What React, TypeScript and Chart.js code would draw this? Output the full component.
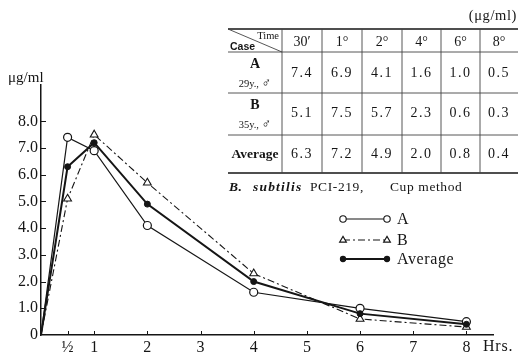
import React, { useEffect, useRef } from 'react';
import { Chart, registerables } from 'chart.js';

Chart.register(...registerables);

const hours = [0, 0.5, 1, 2, 4, 6, 8];
const caseA = [0, 7.4, 6.9, 4.1, 1.6, 1.0, 0.5];
const caseB = [0, 5.1, 7.5, 5.7, 2.3, 0.6, 0.3];
const average = [0, 6.3, 7.2, 4.9, 2.0, 0.8, 0.4];
const xTicks = [0.5, 1, 2, 3, 4, 5, 6, 7, 8];
const yTicks = [0, 1, 2, 3, 4, 5, 6, 7, 8];
const timeLabels = ['30′', '1°', '2°', '4°', '6°', '8°'];
const seriesNames = ['A', 'B', 'Average'];
const caseAges = ['29y.,', '35y.,'];

const FONT = '"Liberation Serif", "DejaVu Serif", serif';
const INK = '#151515';

const colX = [228, 282, 322, 362, 402, 441, 480, 518];
const rowY = [29, 52, 93, 135, 173];

export default function App() {
  const ref = useRef<HTMLCanvasElement>(null);

  useEffect(() => {
    const canvas = ref.current!;
    const toPts = (ys: number[]) => hours.map((x, i) => ({ x, y: ys[i] }));
    const radii = (r: number) => hours.map((h) => (h === 0 ? 0 : r));

    const tickPlugin = {
      id: 'innerTicks',
      afterDraw(chart: any) {
        const { ctx, scales } = chart;
        const x = scales.x;
        const y = scales.y;
        ctx.save();
        ctx.strokeStyle = INK;
        ctx.lineWidth = 1;
        xTicks.forEach((v) => {
          const px = Math.round(x.getPixelForValue(v)) + 0.5;
          ctx.beginPath();
          ctx.moveTo(px, y.bottom);
          ctx.lineTo(px, y.bottom - 4);
          ctx.stroke();
        });
        yTicks.slice(1).forEach((v) => {
          const py = Math.round(y.getPixelForValue(v)) + 0.5;
          ctx.beginPath();
          ctx.moveTo(x.left, py);
          ctx.lineTo(x.left + 5, py);
          ctx.stroke();
        });
        ctx.restore();
      },
    };

    const drawMarker = (ctx: CanvasRenderingContext2D, style: string, cx: number, cy: number, r: number, fill: string) => {
      ctx.beginPath();
      if (style === 'triangle') {
        ctx.moveTo(cx, cy - r);
        ctx.lineTo(cx + r * 0.95, cy + r * 0.6);
        ctx.lineTo(cx - r * 0.95, cy + r * 0.6);
        ctx.closePath();
      } else {
        ctx.arc(cx, cy, r, 0, Math.PI * 2);
      }
      ctx.fillStyle = fill;
      ctx.fill();
      ctx.stroke();
    };

    const legendPlugin = {
      id: 'sampleLegend',
      afterDraw(chart: any) {
        const { ctx } = chart;
        const rows = [219, 240, 259];
        ctx.save();
        chart.data.datasets.forEach((ds: any, i: number) => {
          const y = rows[i];
          ctx.strokeStyle = INK;
          ctx.lineWidth = ds.borderWidth;
          ctx.setLineDash(ds.borderDash || []);
          ctx.beginPath();
          ctx.moveTo(343, y);
          ctx.lineTo(387, y);
          ctx.stroke();
          ctx.setLineDash([]);
          ctx.lineWidth = 1.1;
          const r = ds.pointStyle === 'triangle' ? 3.6 : ds.pointBackgroundColor === '#fff' ? 3.2 : 2.6;
          drawMarker(ctx, ds.pointStyle, 343, y, r, ds.pointBackgroundColor);
          drawMarker(ctx, ds.pointStyle, 387, y, r, ds.pointBackgroundColor);
          ctx.fillStyle = INK;
          ctx.font = `16px ${FONT}`;
          (ctx as any).letterSpacing = '0.6px';
          ctx.textBaseline = 'middle';
          ctx.textAlign = 'left';
          ctx.fillText(ds.label, 397, y + 1);
        });
        ctx.restore();
      },
    };

    const chart = new Chart(canvas, {
      type: 'line',
      data: {
        datasets: [
          {
            label: seriesNames[0],
            data: toPts(caseA),
            borderColor: INK,
            borderWidth: 1.2,
            pointStyle: 'circle',
            pointRadius: radii(4),
            pointBackgroundColor: '#fff',
            pointBorderColor: INK,
            pointBorderWidth: 1.2,
            tension: 0,
            order: 2,
          },
          {
            label: seriesNames[1],
            data: toPts(caseB),
            borderColor: INK,
            borderWidth: 1.1,
            borderDash: [7, 3, 2, 3],
            pointStyle: 'triangle',
            pointRadius: radii(4.5),
            pointBackgroundColor: '#fff',
            pointBorderColor: INK,
            pointBorderWidth: 1.1,
            tension: 0,
            order: 3,
          },
          {
            label: seriesNames[2],
            data: toPts(average),
            borderColor: INK,
            borderWidth: 2,
            pointStyle: 'circle',
            pointRadius: radii(3),
            pointBackgroundColor: INK,
            pointBorderColor: INK,
            pointBorderWidth: 1,
            tension: 0,
            order: 1,
          },
        ],
      },
      options: {
        responsive: false,
        animation: false,
        devicePixelRatio: 1,
        layout: { padding: { top: 85, right: 25, left: 0, bottom: 0 } },
        plugins: { legend: { display: false }, tooltip: { enabled: false } },
        scales: {
          x: {
            type: 'linear',
            min: 0,
            max: 8.5,
            grid: { display: false, drawTicks: false },
            border: { display: true, color: INK, width: 1.5 },
            afterBuildTicks: (s: any) => {
              s.ticks = xTicks.map((v) => ({ value: v }));
            },
            afterFit: (s: any) => {
              s.height = 21;
            },
            ticks: {
              autoSkip: false,
              maxRotation: 0,
              padding: 3,
              color: INK,
              font: { family: FONT, size: 16 },
              callback: (v: any) => (v === 0.5 ? '½' : String(v)),
            },
          },
          y: {
            type: 'linear',
            min: 0,
            max: 9.36,
            grid: { display: false, drawTicks: false },
            border: { display: true, color: INK, width: 1.5 },
            afterBuildTicks: (s: any) => {
              s.ticks = yTicks.map((v) => ({ value: v }));
            },
            afterFit: (s: any) => {
              s.width = 41;
            },
            ticks: {
              autoSkip: false,
              padding: 3,
              color: INK,
              font: { family: FONT, size: 16 },
              callback: (v: any) => (v === 0 ? '0' : Number(v).toFixed(1)),
            },
          },
        },
      },
      plugins: [tickPlugin, legendPlugin],
    } as any);

    return () => chart.destroy();
  }, []);

  const seriesRows = [caseA, caseB, average];
  const valueBase = [77, 117, 158];
  const colCenters = colX.slice(1, 7).map((x, i) => (x + colX[i + 2]) / 2);

  return (
    <div style={{ position: 'absolute', left: 0, top: 0, width: 518, height: 356, background: '#fff' }}>
      <canvas ref={ref} width={518} height={356} style={{ position: 'absolute', left: 0, top: 0 }} />
      <svg
        width={518}
        height={356}
        style={{ position: 'absolute', left: 0, top: 0, pointerEvents: 'none', fontFamily: FONT }}
        fill={INK}
      >
        <text x={8} y={82} fontSize={15}>
          μg/ml
        </text>
        <text x={483} y={351} fontSize={16} letterSpacing={0.8}>
          Hrs.
        </text>
        <text x={517} y={20} fontSize={14.5} textAnchor="end" letterSpacing={0.6}>
          (μg/ml)
        </text>
        <line x1={228} y1={rowY[0]} x2={518} y2={rowY[0]} stroke={INK} strokeWidth={1.5} />
        {rowY.slice(1, 4).map((y) => (
          <line key={y} x1={228} y1={y} x2={518} y2={y} stroke="#444" strokeWidth={0.9} />
        ))}
        <line x1={228} y1={rowY[4]} x2={518} y2={rowY[4]} stroke={INK} strokeWidth={1.5} />
        {colX.slice(1, 7).map((x) => (
          <line key={x} x1={x} y1={rowY[0]} x2={x} y2={rowY[4]} stroke="#444" strokeWidth={0.9} />
        ))}
        <line x1={228} y1={rowY[0]} x2={282} y2={rowY[1]} stroke="#444" strokeWidth={0.9} />
        <text x={279} y={39} fontSize={10.5} textAnchor="end">
          Time
        </text>
        <text x={230} y={50} fontSize={10.5} fontWeight="bold" style={{ fontFamily: '"Liberation Sans", sans-serif' }}>
          Case
        </text>
        {timeLabels.map((t, i) => (
          <text key={t} x={colCenters[i]} y={46} fontSize={14} textAnchor="middle">
            {t}
          </text>
        ))}
        <text x={255} y={68} fontSize={14} textAnchor="middle" fontWeight="bold">
          {seriesNames[0]}
        </text>
        <text x={255} y={87} fontSize={10.5} textAnchor="middle">
          {caseAges[0]} <tspan fontSize={13}>♂</tspan>
        </text>
        <text x={255} y={109} fontSize={14} textAnchor="middle" fontWeight="bold">
          {seriesNames[1]}
        </text>
        <text x={255} y={128} fontSize={10.5} textAnchor="middle">
          {caseAges[1]} <tspan fontSize={13}>♂</tspan>
        </text>
        <text x={255} y={158} fontSize={13.5} textAnchor="middle" fontWeight="bold">
          {seriesNames[2]}
        </text>
        {seriesRows.map((row, r) =>
          row.slice(1).map((v, i) => (
            <text key={`${r}-${i}`} x={colCenters[i]} y={valueBase[r]} fontSize={14} textAnchor="middle" letterSpacing={1.5}>
              {v.toFixed(1)}
            </text>
          ))
        )}
        <text y={191} fontSize={13.5} letterSpacing={0.6}>
          <tspan x={229} style={{ fontStyle: 'italic', fontWeight: 'bold' }}>B.</tspan>
          <tspan x={253} style={{ fontStyle: 'italic', fontWeight: 'bold' }} letterSpacing={1.2}>subtilis</tspan>
          <tspan x={310}>PCI-219,</tspan>
          <tspan x={390}>Cup method</tspan>
        </text>
      </svg>
    </div>
  );
}
